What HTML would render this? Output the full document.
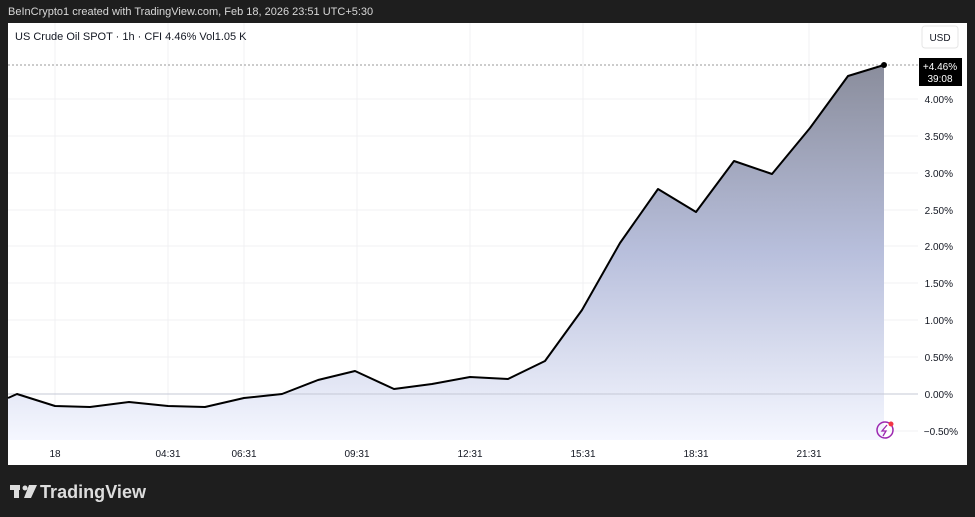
<!DOCTYPE html>
<html><head><meta charset="utf-8"><style>
body{margin:0;width:975px;height:517px;background:#1e1e1e;overflow:hidden;font-family:"Liberation Sans",sans-serif}
</style></head><body>
<svg width="975" height="517" xmlns="http://www.w3.org/2000/svg" style="position:absolute;left:0;top:0">
<defs><linearGradient id="g" x1="0" y1="0" x2="0" y2="1"><stop offset="0" stop-color="#8a8d9c"/><stop offset="0.5" stop-color="#b8bfdc"/><stop offset="1" stop-color="#f5f7ff"/></linearGradient></defs>
<text x="8" y="15" fill="#d8d8d8" font-size="11">BeInCrypto1 created with TradingView.com, Feb 18, 2026 23:51 UTC+5:30</text>
<rect x="8" y="23" width="959" height="442" fill="#fff"/>
<g stroke="#f0f0f3" stroke-width="1">
<line x1="55" y1="23" x2="55" y2="440"/><line x1="168" y1="23" x2="168" y2="440"/><line x1="244" y1="23" x2="244" y2="440"/><line x1="357" y1="23" x2="357" y2="440"/><line x1="470" y1="23" x2="470" y2="440"/><line x1="583" y1="23" x2="583" y2="440"/><line x1="696" y1="23" x2="696" y2="440"/><line x1="809" y1="23" x2="809" y2="440"/>
<line x1="8" y1="99" x2="918" y2="99"/><line x1="8" y1="136" x2="918" y2="136"/><line x1="8" y1="173" x2="918" y2="173"/><line x1="8" y1="210" x2="918" y2="210"/><line x1="8" y1="246" x2="918" y2="246"/><line x1="8" y1="283" x2="918" y2="283"/><line x1="8" y1="320" x2="918" y2="320"/><line x1="8" y1="357" x2="918" y2="357"/><line x1="8" y1="431" x2="918" y2="431"/>
</g>
<polygon fill="url(#g)" points="8,398 17,394 55,406 90,407 129,402 168,406 205,407 244,398 282,394 318,380 355,371 394,389 432,384 470,377 508,379 545,361 582,310 620,243 658,189 696,212 734,161 772,174 810,128 848,76 884,65 884,440 8,440"/>
<line x1="8" y1="394" x2="918" y2="394" stroke="#c5c8d6" stroke-width="1"/>
<line x1="8" y1="65" x2="918" y2="65" stroke="#999" stroke-width="1" stroke-dasharray="2,2"/>
<polyline fill="none" stroke="#000" stroke-width="2" stroke-linejoin="round" points="8,398 17,394 55,406 90,407 129,402 168,406 205,407 244,398 282,394 318,380 355,371 394,389 432,384 470,377 508,379 545,361 582,310 620,243 658,189 696,212 734,161 772,174 810,128 848,76 884,65"/>
<circle cx="884" cy="65" r="3" fill="#000"/>
<text x="15" y="40" fill="#131722" font-size="11">US Crude Oil SPOT · 1h · CFI  4.46%  Vol1.05 K</text>
<rect x="922" y="26" width="36" height="22" rx="3" fill="#fff" stroke="#e6e6e6"/>
<text x="940" y="41" fill="#131722" font-size="10" text-anchor="middle">USD</text>
<rect x="919" y="58" width="43" height="28" fill="#000"/>
<text x="940" y="70" fill="#fff" font-size="10" text-anchor="middle">+4.46%</text>
<text x="940" y="82" fill="#fff" font-size="10" text-anchor="middle">39:08</text>
<g fill="#131722" font-size="10" text-anchor="end">
<text x="953" y="103">4.00%</text><text x="953" y="140">3.50%</text><text x="953" y="177">3.00%</text><text x="953" y="214">2.50%</text><text x="953" y="250">2.00%</text><text x="953" y="287">1.50%</text><text x="953" y="324">1.00%</text><text x="953" y="361">0.50%</text><text x="953" y="398">0.00%</text><text x="958" y="435">−0.50%</text>
</g>
<g fill="#131722" font-size="10" text-anchor="middle">
<text x="55" y="457">18</text><text x="168" y="457">04:31</text><text x="244" y="457">06:31</text><text x="357" y="457">09:31</text><text x="470" y="457">12:31</text><text x="583" y="457">15:31</text><text x="696" y="457">18:31</text><text x="809" y="457">21:31</text>
</g>
<circle cx="885" cy="430" r="8" fill="none" stroke="#9c27b0" stroke-width="1.5"/>
<path d="M887 425 L882 431 L886 431 L883 436" fill="none" stroke="#9c27b0" stroke-width="1.3"/>
<circle cx="891" cy="424" r="2.5" fill="#f23645"/>
<rect x="10" y="485" width="10" height="5" fill="#ddd"/><rect x="14" y="485" width="5" height="13" fill="#ddd"/><circle cx="25" cy="488" r="2.5" fill="#ddd"/><path d="M29 485 L37 485 L31 498 L24 498 Z" fill="#ddd"/>
<text x="40" y="498" fill="#ddd" font-size="18" font-weight="bold" textLength="106">TradingView</text>
</svg>
</body></html>
